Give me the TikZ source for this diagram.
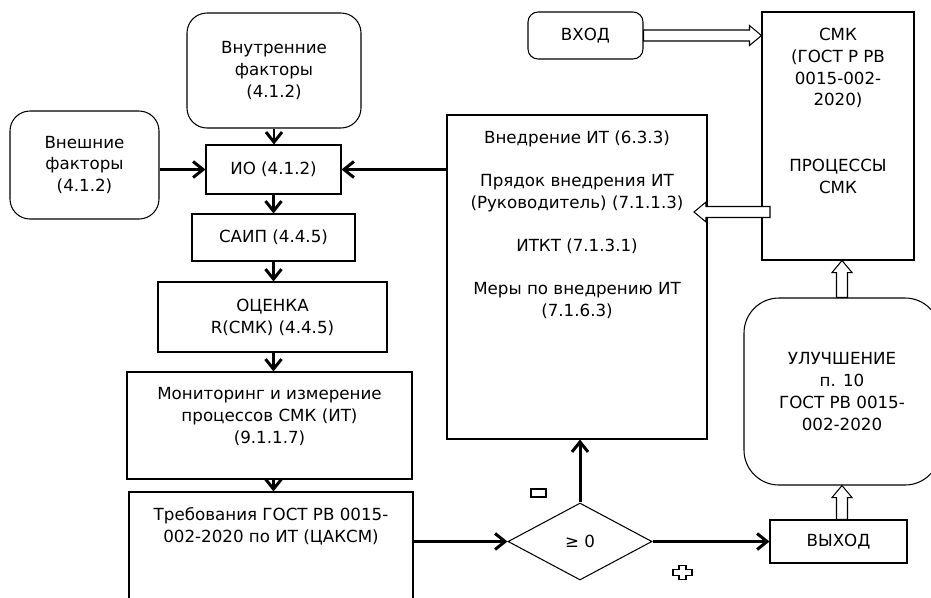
\documentclass[tikz,border=0pt]{standalone}
\usepackage{fontspec}
\setmainfont{DejaVu Sans}
\usetikzlibrary{calc,arrows.meta,shapes.geometric}

\tikzset{
  box/.style={draw, line width=0.6pt, inner sep=2pt, align=center},
  flow/.style={->, line width=1.7pt},
  % wide hollow arrow, drawn as an outline from start to target
  hollow/.style={draw, fill=white, line width=0.6pt,
    to path={
      ($(\tikztotarget)!0.24cm!(\tikztostart)$) coordinate (hh)
      ($(\tikztostart)!0.11cm!90:(\tikztotarget)$)
      -- ($(hh)!0.11cm!-90:(\tikztostart)$)
      -- ($(hh)!0.2cm!-90:(\tikztostart)$)
      -- (\tikztotarget)
      -- ($(hh)!0.2cm!90:(\tikztostart)$)
      -- ($(hh)!0.11cm!90:(\tikztostart)$)
      -- ($(\tikztostart)!0.11cm!-90:(\tikztotarget)$)
      -- cycle}}
}

\begin{document}
\begin{tikzpicture}[>={Straight Barb[length=2mm,width=3.2mm]}, font=\fontsize{9.5}{12.5}\selectfont]
  \useasboundingbox (0,0) rectangle (18.62,-11.94);

  % left column
  \node[box, rounded corners=0.4cm, minimum width=3.48cm, minimum height=2.3cm] (inner) at (5.48,-1.41)
     {Внутренние\\факторы\\(4.1.2)};
  \node[box, rounded corners=0.4cm, minimum width=2.98cm, minimum height=2.16cm] (outer) at (1.69,-3.30)
     {Внешние\\факторы\\(4.1.2)};
  \node[box, minimum width=2.7cm, minimum height=0.98cm] (io) at (5.47,-3.39) {ИО (4.1.2)};
  \node[box, minimum width=3.26cm, minimum height=0.94cm] (saip) at (5.47,-4.75) {САИП (4.4.5)};
  \node[box, minimum width=4.58cm, minimum height=1.4cm] (ocenka) at (5.45,-6.34) {ОЦЕНКА\\R(СМК) (4.4.5)};
  \node[box, minimum width=5.7cm, minimum height=2.14cm] (monit) at (5.39,-8.51) {};
  \node[anchor=north, align=center] (monit-t) at ([yshift=-0.2cm]monit.north)
     {Мониторинг и измерение\\процессов СМК (ИТ)\\(9.1.1.7)};
  \node[box, minimum width=5.68cm, minimum height=2.56cm] (treb) at (5.42,-11.12) {};
  \node[anchor=north, align=center] (treb-t) at ([yshift=-0.2cm]treb.north)
     {Требования ГОСТ РВ 0015-\\002-2020 по ИТ (ЦАКСМ)};

  % middle: implementation and the check
  \node[box, minimum width=5.2cm, minimum height=6.48cm] (vnedr) at (11.54,-5.54) {};
  \node[anchor=north, align=center] (vnedr-t) at ([yshift=-0.2cm]vnedr.north)
     {Внедрение ИТ (6.3.3)\\[12pt]Прядок внедрения ИТ\\(Руководитель) (7.1.1.3)\\[12pt]ИТКТ (7.1.3.1)\\[12pt]Меры по внедрению ИТ\\(7.1.6.3)};
  \node[box, diamond, minimum width=2.88cm, minimum height=1.54cm, inner sep=0pt] (dia) at (11.6,-10.83) {≥ 0};
  \node[box, rounded corners=0.2cm, minimum width=2.3cm, minimum height=0.94cm] (vhod) at (11.71,-0.71) {ВХОД};

  % right column
  \node[box, minimum width=3.04cm, minimum height=4.96cm] (smk) at (16.76,-2.72) {};
  \node[anchor=north, align=center] (smk-t) at ([yshift=-0.2cm]smk.north)
     {СМК\\(ГОСТ Р РВ\\0015-002-\\2020)\\[25pt]ПРОЦЕССЫ\\СМК};
  \node[box, rounded corners=0.7cm, minimum width=3.92cm, minimum height=3.74cm] (uluch) at (16.84,-7.83)
     {УЛУЧШЕНИЕ\\п. 10\\ГОСТ РВ 0015-\\002-2020};
  \node[box, minimum width=2.74cm, minimum height=0.86cm] (vyhod) at (16.77,-10.83) {ВЫХОД};

  % main flow
  \draw[flow] (inner.south) -- (inner.south |- io.north);
  \draw[flow] (io.west -| outer.east) -- (io.west);
  \draw[flow] (vnedr.west |- io.east) -- (io.east);
  \draw[flow] (io.south) -- (io.south |- saip.north);
  \draw[flow] (io.south |- saip.south) -- (io.south |- ocenka.north);
  \draw[flow] (io.south |- ocenka.south) -- (io.south |- monit.north);
  \draw[flow] (io.south |- monit.south) -- (io.south |- treb.north);
  \draw[flow] (dia.west -| treb.east) -- (dia.west);
  \draw[flow] (dia.east) -- (vyhod.west);
  \draw[flow] (dia.north) -- (dia.north |- vnedr.south);

  % hollow arrows
  \coordinate (smk-out) at (15.40,-4.24);
  \coordinate (vnedr-in) at (13.88,-4.24);
  \draw[hollow] (vhod.east) to (vhod.east -| smk.west);
  \draw[hollow] (smk-out) to (vnedr-in);
  \draw[hollow] (uluch.south |- vyhod.north) to (uluch.south);
  \draw[hollow] (uluch.north) to (uluch.north |- smk.south);

  % branch marks
  \draw[line width=0.6pt] (10.62,-9.78) rectangle (10.92,-9.94);
  \draw[line width=0.6pt, shift={(13.65,-11.45)}]
     (-0.07,0.14) -- (0.07,0.14) -- (0.07,0.06) -- (0.19,0.06) -- (0.19,-0.06) -- (0.07,-0.06)
     -- (0.07,-0.14) -- (-0.07,-0.14) -- (-0.07,-0.06) -- (-0.19,-0.06) -- (-0.19,0.06) -- (-0.07,0.06) -- cycle;
\end{tikzpicture}
\end{document}
